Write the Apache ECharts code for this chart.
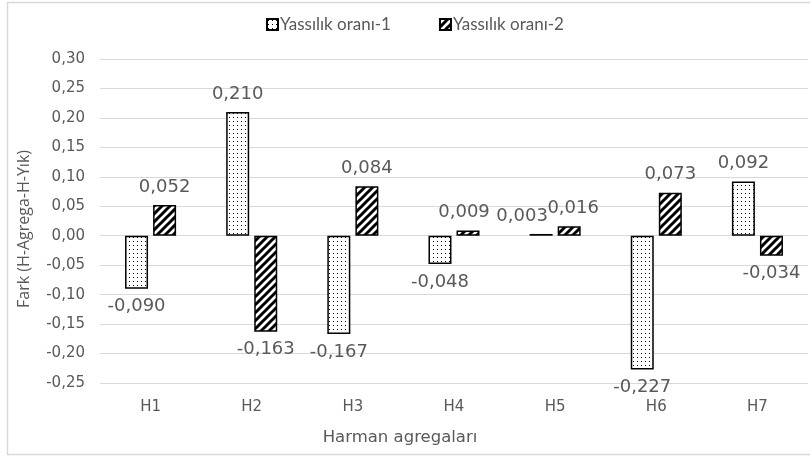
<!DOCTYPE html>
<html><head><meta charset="utf-8">
<script src="https://cdn.jsdelivr.net/npm/echarts@6/dist/echarts.min.js"></script>
<style>html,body{margin:0;padding:0;background:#fff}#c{width:810px;height:458px}</style>
</head><body><div id="c"></div>
<script>
const categories = ['H1','H2','H3','H4','H5','H6','H7'];
const seriesNames = ['Yassılık oranı-1','Yassılık oranı-2'];
const values1 = [-0.090, 0.210, -0.167, -0.048, 0.003, -0.227, 0.092];
const values2 = [0.052, -0.163, 0.084, 0.009, 0.016, 0.073, -0.034];
const yTicks = {min: -0.25, max: 0.30, interval: 0.05};

const FONT = '"DejaVu Sans"';
function dotPattern(){
  const c = document.createElement('canvas'); c.width = 8; c.height = 8;
  const g = c.getContext('2d');
  g.fillStyle = '#fff'; g.fillRect(0,0,8,8);
  g.fillStyle = '#000';
  g.fillRect(1,1,1,1); g.fillRect(5,5,1,1);
  g.fillRect(5,1,1,1); g.fillRect(1,5,1,1);
  return c;
}
function hatchPattern(){
  const c = document.createElement('canvas'); c.width = 8; c.height = 8;
  const g = c.getContext('2d');
  g.fillStyle = '#fff'; g.fillRect(0,0,8,8);
  g.strokeStyle = '#000'; g.lineWidth = 3; g.lineCap = 'square';
  g.beginPath();
  g.moveTo(-2,10); g.lineTo(10,-2);
  g.moveTo(-6,6); g.lineTo(6,-6);
  g.moveTo(2,14); g.lineTo(14,2);
  g.stroke();
  return c;
}
const fmt = v => v.toFixed(3).replace('.', ',');
const labelFor = (v, dx) => ({
  show: true, position: v < 0 ? 'bottom' : 'top', distance: 9,
  offset: [dx || 0, 0],
  color: '#595959', fontSize: 18, fontFamily: FONT,
  formatter: p => fmt(p.value)
});
// label nudges (px) so that neighbouring labels do not collide, as in the reference
const nudge1 = [0, 0, 0, 0, -19, 0, 0];
const nudge2 = [0, 0, 0, -4, 4, 0, 0];
const mkData = (arr, nud) => arr.map((v, i) => ({value: v, label: labelFor(v, nud[i])}));

const chart = echarts.init(document.getElementById('c'), null, {renderer: 'canvas'});
const pat1 = {image: dotPattern(), repeat: 'repeat'};
const pat2 = {image: hatchPattern(), repeat: 'repeat'};
chart.setOption({
  animation: false,
  backgroundColor: '#fff',
  legend: {
    top: 11, left: 261, itemWidth: 11, itemHeight: 11, itemGap: 48,
    icon: 'rect',
    textStyle: {color: '#595959', fontSize: 17, fontFamily: 'Lato', padding: [0,0,0,-3]},
    data: seriesNames
  },
  grid: {left: 100, right: 2, top: 59, bottom: 75},
  xAxis: {
    type: 'category', data: categories,
    axisLine: {show: false}, axisTick: {show: false},
    axisLabel: {color: '#595959', fontSize: 15, fontFamily: FONT, margin: 17},
    position: 'bottom'
  },
  yAxis: {
    type: 'value', min: yTicks.min, max: yTicks.max, interval: yTicks.interval,
    axisLine: {show: false}, axisTick: {show: false},
    splitLine: {lineStyle: {color: '#d9d9d9', width: 1}},
    axisLabel: {color: '#595959', fontSize: 15, fontFamily: FONT, margin: 15,
      formatter: v => (Math.round(v*100)/100).toFixed(2).replace('.', ',')}
  },
  series: [
    {name: seriesNames[0], type: 'bar', data: mkData(values1, nudge1), barWidth: 23, barGap: '22%',
     itemStyle: {color: pat1, borderColor: '#000', borderWidth: 1.5}},
    {name: seriesNames[1], type: 'bar', data: mkData(values2, nudge2), barWidth: 23, barGap: '22%',
     itemStyle: {color: pat2, borderColor: '#000', borderWidth: 1.5}}
  ],
  graphic: [
    {type: 'rect', shape: {x: 7.5, y: 2.5, width: 820, height: 452}, style: {fill: 'none', stroke: '#d9d9d9', lineWidth: 1.5}, silent: true},
    {type: 'text', x: 400, y: 438, style: {text: 'Harman agregaları', fill: '#595959', font: '16.5px "DejaVu Sans"', textAlign: 'center', textVerticalAlign: 'middle'}},
    {type: 'text', x: 24, y: 229, rotation: Math.PI/2, style: {text: 'Fark (H-Agrega-H-Yık)', fill: '#595959', font: '16px "Open Sans"', textAlign: 'center', textVerticalAlign: 'middle'}}
  ]
});
</script></body></html>
